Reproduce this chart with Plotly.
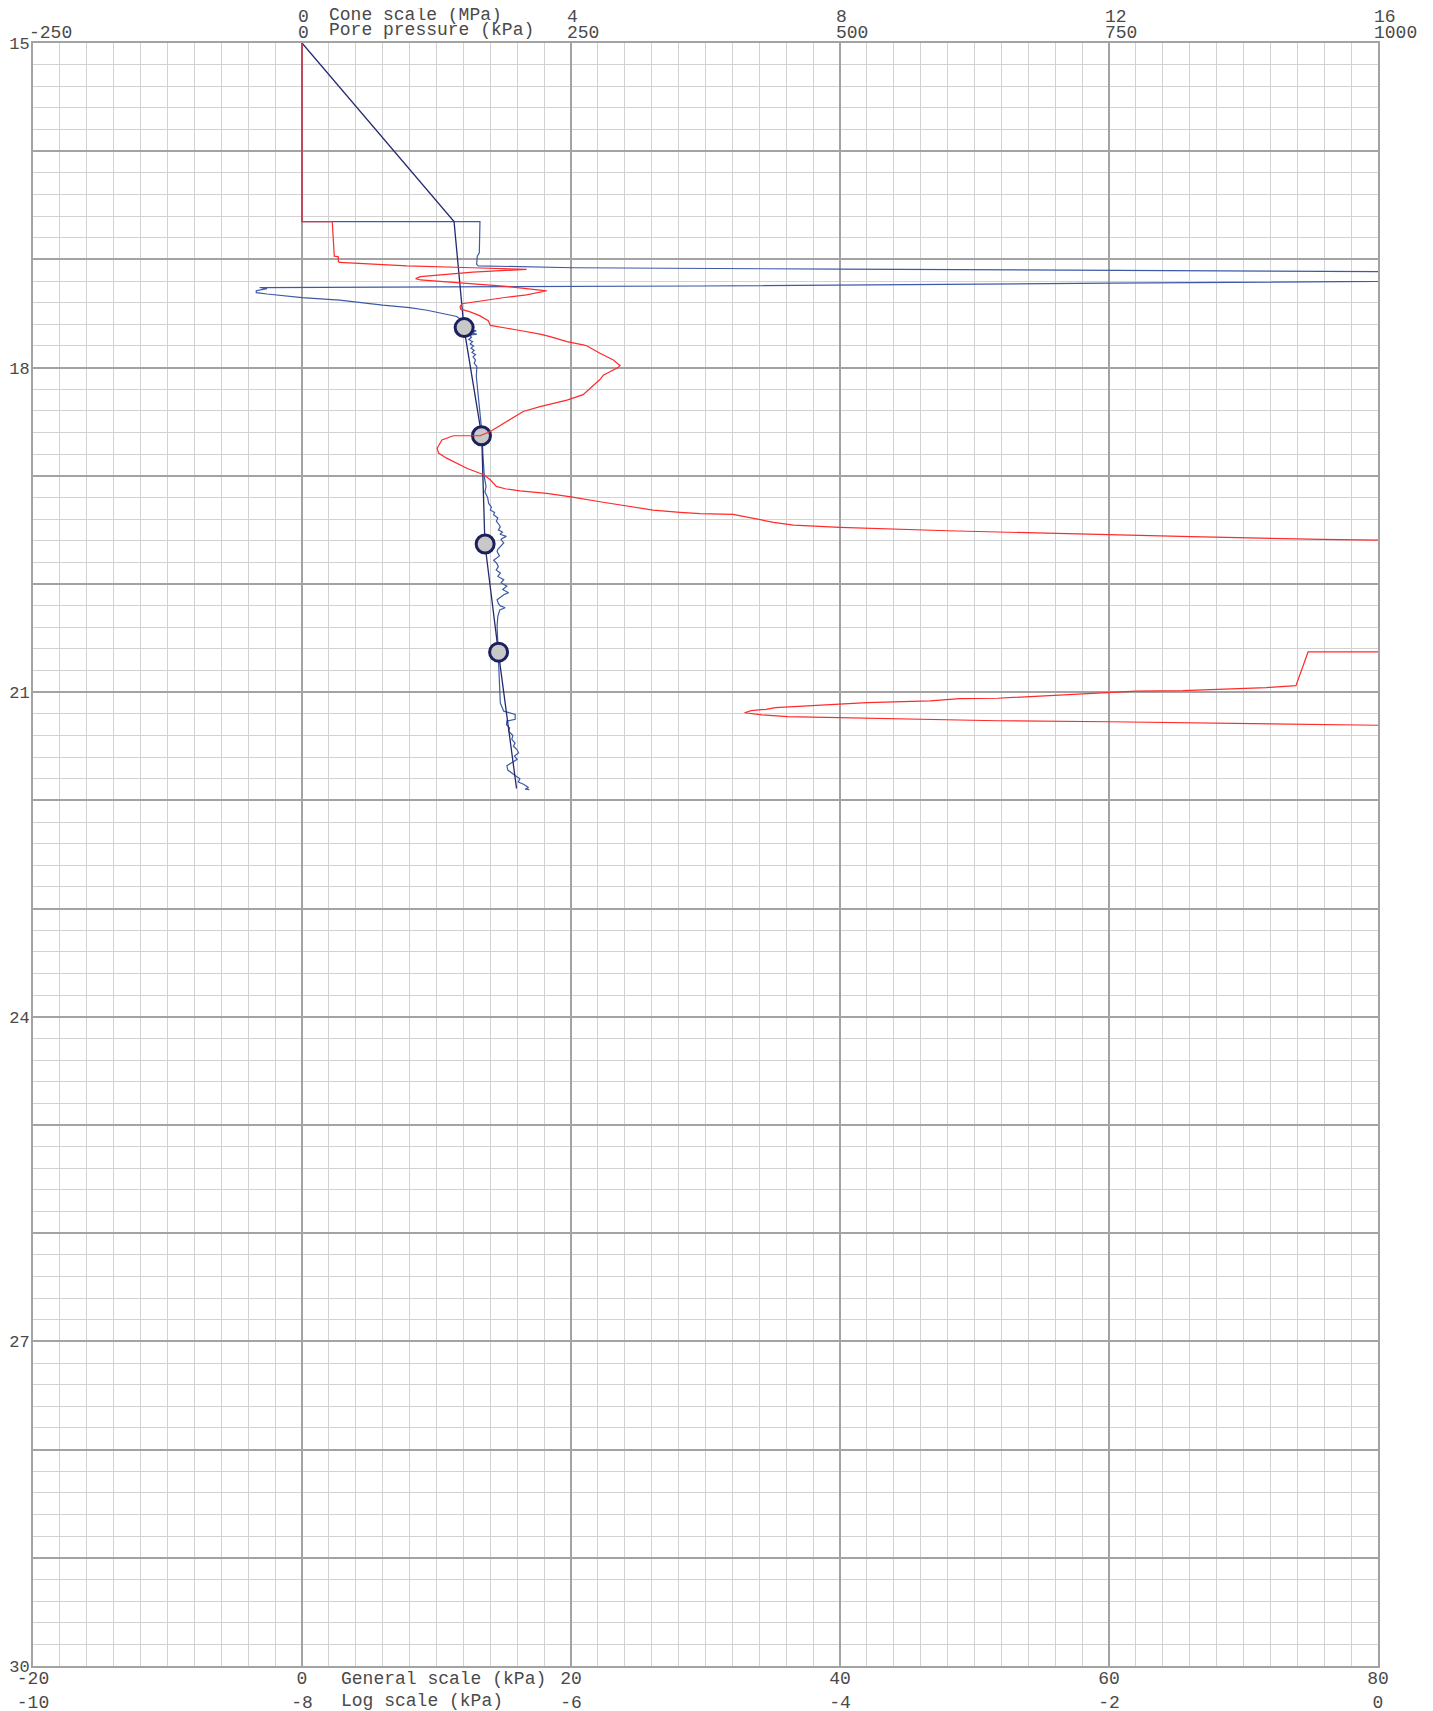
import plotly.graph_objects as go

# ---------------- data ----------------
# Cone resistance (MPa) vs depth (m)
red_depth = [15.00, 16.65, 16.65, 16.88, 16.97, 16.975, 17.02, 17.028, 17.046, 17.06, 17.077, 17.092,
             17.117, 17.16, 17.178, 17.19, 17.215, 17.25, 17.29, 17.328, 17.35, 17.37, 17.38, 17.40,
             17.41, 17.435, 17.46, 17.485, 17.52, 17.567, 17.61, 17.65, 17.69, 17.714, 17.76, 17.79,
             17.80, 17.868, 17.93, 17.966, 17.98, 18.00, 18.03, 18.07, 18.11, 18.175, 18.25, 18.30,
             18.36, 18.406, 18.50, 18.59, 18.63, 18.63, 18.668, 18.745, 18.79, 18.837, 18.93, 18.99,
             19.037, 19.098, 19.12, 19.14, 19.163, 19.194, 19.24, 19.277, 19.317, 19.338, 19.35,
             19.357, 19.403, 19.43, 19.455, 19.465, 19.477, 19.508, 19.54, 19.563, 19.588, 19.594,
             19.62, 20.60, 20.628, 20.628, 20.94, 20.957, 20.97, 20.985, 20.99, 21.003, 21.025,
             21.056, 21.06, 21.08, 21.096, 21.11, 21.12, 21.143, 21.158, 21.17, 21.19, 21.21,
             21.226, 21.236, 21.264, 21.273, 21.29, 21.30, 21.31, 21.33]
red_cone = [0.00, 0.00, 0.45, 0.47, 0.48, 0.54, 0.54, 0.56, 1.06, 1.56, 2.54, 3.34,
            2.54, 1.76, 1.69, 1.76, 2.30, 3.04, 3.64, 3.34, 3.04, 2.84, 2.72, 2.54,
            2.38, 2.35, 2.36, 2.50, 2.64, 2.77, 2.80, 3.18, 3.54, 3.69, 3.94, 4.18,
            4.24, 4.43, 4.63, 4.70, 4.73, 4.70, 4.60, 4.48, 4.43, 4.31, 4.18, 3.94,
            3.54, 3.29, 3.04, 2.80, 2.65, 2.25, 2.08, 2.01, 2.03, 2.15, 2.45, 2.70,
            2.80, 2.89, 3.02, 3.24, 3.64, 4.00, 4.43, 4.83, 5.22, 5.62, 5.92,
            6.41, 6.82, 7.01, 7.31, 7.59, 8.00, 9.60, 11.62, 13.22, 15.16, 16.00,
            19.00, 19.00, 16.00, 14.96, 14.78, 14.34, 13.72, 13.10, 12.40, 12.00, 11.22,
            10.34, 9.78, 9.34, 8.40, 8.00, 7.60, 7.04, 6.90, 6.68, 6.58, 6.84,
            7.22, 8.00, 10.34, 12.00, 14.04, 14.96, 16.00, 19.00]

# Pore pressure (kPa) vs depth (m)
blue_depth = [15.00, 16.65, 16.65, 16.755, 16.94, 16.97, 17.046, 17.06, 17.077, 17.09, 17.10, 17.11,
              17.13, 17.18, 17.20, 17.22, 17.246, 17.25, 17.26, 17.26, 17.27, 17.29, 17.307, 17.32,
              17.353, 17.377, 17.423, 17.445, 17.47, 17.506, 17.528, 17.55, 17.60, 17.64, 17.66,
              17.68, 17.69, 17.70, 17.72, 17.74, 17.76, 17.78, 17.80, 17.82, 17.84, 17.86, 17.88,
              17.90, 17.93, 17.96, 17.99, 18.08, 18.20, 18.39, 18.545, 18.63,
              18.80, 19.01, 19.10, 19.15, 19.20, 19.255, 19.29, 19.316, 19.34, 19.36, 19.39,
              19.42, 19.45, 19.47, 19.50, 19.52, 19.54, 19.56, 19.58, 19.59, 19.62, 19.65,
              19.68, 19.70, 19.74, 19.78, 19.81, 19.84, 19.87, 19.90, 19.93, 19.96, 19.99,
              20.02, 20.05, 20.08, 20.10, 20.146, 20.18, 20.20, 20.22, 20.24, 20.30, 20.39,
              20.51, 20.63, 20.80, 20.945, 21.10, 21.175, 21.19, 21.206, 21.25, 21.267, 21.30,
              21.33, 21.36, 21.40, 21.436, 21.47, 21.50, 21.53, 21.56, 21.59, 21.62, 21.65,
              21.68, 21.72, 21.75, 21.77, 21.80, 21.83, 21.85, 21.88, 21.895, 21.90]
blue_pore = [0.0, 0.0, 165.4, 165.4, 164.8, 162.9, 162.3, 163.8, 252.5, 500.0, 750.0, 1000.0,
             1375.0, 1375.0, 1000.0, 750.0, 370.0, 250.0, 0.0, -39.4, -32.5, -42.5, -42.5, -32.5,
             0.0, 35.0, 75.0, 100.0, 116.3, 133.8, 143.8, 146.9, 148.8, 151.3, 162.0,
             158.0, 162.5, 156.0, 157.5, 155.0, 158.5, 156.3, 159.5, 157.0, 160.0, 158.0, 161.3,
             159.0, 161.3, 160.0, 162.5, 162.0, 163.3, 165.0, 166.6, 167.5,
             168.1, 169.5, 171.0, 170.0, 172.5, 173.5, 176.0, 175.0, 179.0, 178.1, 182.0,
             180.6, 183.0, 184.3, 182.5, 186.3, 184.0, 189.9, 186.0, 185.0, 187.5, 184.3,
             182.0, 181.3, 183.5, 178.1, 181.0, 182.5, 180.5, 184.4, 182.0, 187.5, 185.0,
             190.4, 186.5, 192.0, 187.5, 181.3, 182.5, 184.0, 188.8, 183.8, 182.0, 181.3,
             181.8, 182.5, 183.1, 183.8, 184.3, 187.5, 193.5, 198.1, 198.1, 190.4, 190.0,
             193.0, 192.0, 196.0, 195.0, 198.0, 196.5, 199.8, 201.3, 197.5, 200.0, 195.0,
             190.4, 191.3, 196.0, 198.1, 202.5, 201.0, 205.9, 210.5, 207.5, 211.3]

# Equilibrium pore pressure line (kPa)
navy_depth = [15.00, 16.65, 17.63, 18.63, 19.63, 20.63, 21.89]
navy_pore = [0.0, 141.3, 150.5, 167.0, 170.0, 182.5, 199.4]

# Dissipation test points (kPa)
diss_depth = [17.63, 18.63, 19.63, 20.63]
diss_pore = [150.7, 166.8, 170.2, 182.7]

# Axis tick labels
depth_ticks = list(range(15, 31))
depth_labels = [str(v) if v % 3 == 0 else "" for v in depth_ticks]
general_ticks = [-20, 0, 20, 40, 60, 80]
log_ticks = [-10, -8, -6, -4, -2, 0]
cone_ticks = [0, 4, 8, 12, 16]
pore_ticks = [-250, 0, 250, 500, 750, 1000]

# ---------------- styling ----------------
FONT = "Liberation Mono, Courier New, monospace"
TXT = "#4a4a4a"
MAJOR = "#a3a3a3"
MINOR = "#d2d2d2"

fig = go.Figure()

fig.add_trace(go.Scatter(x=red_cone, y=red_depth, xaxis="x3", yaxis="y", mode="lines",
                         line=dict(color="#ff2a2a", width=1.2), name="Cone", showlegend=False))
fig.add_trace(go.Scatter(x=blue_pore, y=blue_depth, xaxis="x2", yaxis="y", mode="lines",
                         line=dict(color="#3d5aa8", width=1.2), name="Pore pressure", showlegend=False))
fig.add_trace(go.Scatter(x=navy_pore, y=navy_depth, xaxis="x2", yaxis="y", mode="lines",
                         line=dict(color="#232a6e", width=1.3), name="Equilibrium", showlegend=False))
fig.add_trace(go.Scatter(x=diss_pore, y=diss_depth, xaxis="x2", yaxis="y", mode="markers",
                         marker=dict(size=18, color="#c8c8c8", line=dict(color="#1d205c", width=3)),
                         name="Dissipation", showlegend=False))
# empty traces so that the general and log axes are drawn
fig.add_trace(go.Scatter(x=[], y=[], xaxis="x", yaxis="y", showlegend=False))
fig.add_trace(go.Scatter(x=[], y=[], xaxis="x4", yaxis="y", showlegend=False))

tickfont = dict(family=FONT, size=18, color=TXT)
yfont = dict(family=FONT, size=17, color=TXT)

fig.update_layout(
    width=1433, height=1711,
    margin=dict(l=25, r=63, t=35, b=53, autoexpand=False),
    paper_bgcolor="white", plot_bgcolor="white",
    font=dict(family=FONT, size=18, color=TXT),
    xaxis=dict(range=[-20, 80], side="bottom", tickmode="array", tickvals=general_ticks,
               ticktext=[str(v) for v in general_ticks], tickfont=tickfont, ticks="",
               showgrid=True, gridcolor=MAJOR, gridwidth=2, zeroline=False,
               showline=True, linecolor=MAJOR, linewidth=2, mirror=True,
               ticklabelstandoff=-6, automargin=False,
               minor=dict(tick0=0, dtick=2, showgrid=True, gridcolor=MINOR, gridwidth=1)),
    xaxis2=dict(range=[-250, 1000], side="top", overlaying="x", anchor="y",
                tickmode="array", tickvals=pore_ticks, ticktext=[str(v) for v in pore_ticks],
                tickfont=tickfont, ticks="", showgrid=False, zeroline=False, showline=False,
                ticklabelposition="outside right", ticklabelshift=-4, ticklabelstandoff=0,
                automargin=False),
    xaxis3=dict(range=[-4, 16], side="top", overlaying="x", anchor="y",
                tickmode="array", tickvals=cone_ticks, ticktext=[str(v) for v in cone_ticks],
                tickfont=tickfont, ticks="", showgrid=False, zeroline=False, showline=False,
                ticklabelposition="outside right", ticklabelshift=-4, ticklabelstandoff=16,
                automargin=False),
    xaxis4=dict(range=[-10, 0], side="bottom", overlaying="x", anchor="y",
                tickmode="array", tickvals=log_ticks, ticktext=[str(v) for v in log_ticks],
                tickfont=tickfont, ticks="", showgrid=False, zeroline=False, showline=False,
                ticklabelstandoff=23, automargin=False),
    yaxis=dict(range=[30, 15], tickmode="array", tickvals=depth_ticks, ticktext=depth_labels,
               tickfont=yfont, ticks="", showgrid=True, gridcolor=MAJOR, gridwidth=2,
               zeroline=False, showline=True, linecolor=MAJOR, linewidth=2, mirror=True,
               ticklabelstandoff=-2, automargin=False,
               minor=dict(tick0=15, dtick=0.2, showgrid=True, gridcolor=MINOR, gridwidth=1)),
)

# axis titles placed inline with tick label rows
ann = dict(showarrow=False, xanchor="left", yanchor="middle", font=tickfont, borderpad=0)
fig.add_annotation(x=1.9, xref="x", y=1, yref="paper", text="Cone scale (MPa)", yshift=28, **ann)
fig.add_annotation(x=1.9, xref="x", y=1, yref="paper", text="Pore pressure (kPa)", yshift=13, **ann)
fig.add_annotation(x=2.8, xref="x", y=0, yref="paper", text="General scale (kPa)", yshift=-13, **ann)
fig.add_annotation(x=2.8, xref="x", y=0, yref="paper", text="Log scale (kPa)", yshift=-35, **ann)

fig.write_html("out.html")
